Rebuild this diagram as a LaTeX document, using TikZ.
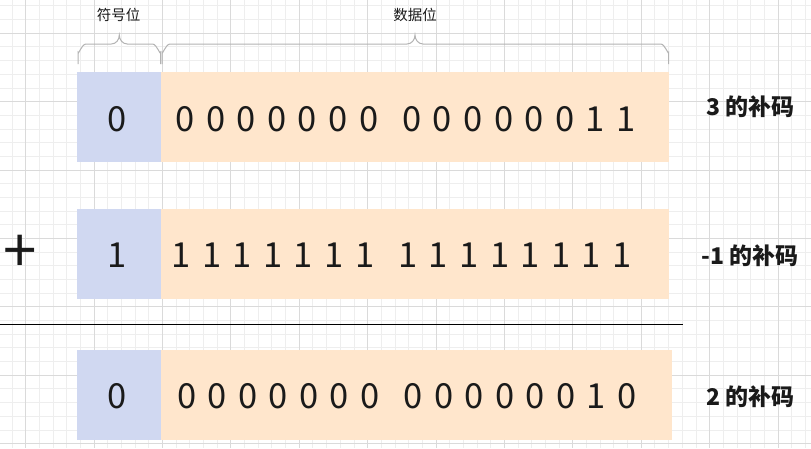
\documentclass[tikz,border=0pt]{standalone}
\usepackage{fontspec}
\setmainfont{Noto Sans CJK SC}
\definecolor{gridminor}{HTML}{EEEEEE}
\definecolor{gridmajor}{HTML}{DADADA}
\definecolor{signfill}{HTML}{D0D8F1}
\definecolor{datafill}{HTML}{FFE6CC}
\definecolor{bracegray}{HTML}{B3B3B3}
\definecolor{ink}{HTML}{1A1A1A}
\begin{document}
\begin{tikzpicture}[x=1pt,y=-1pt,
  minorgrid/.style={draw=gridminor,line width=1pt},
  majorgrid/.style={draw=gridmajor,line width=1pt},
  signbox/.style={fill=signfill,draw=none,minimum width=84pt,minimum height=90pt,inner sep=0pt},
  databox/.style={fill=datafill,draw=none,minimum height=90pt,inner sep=0pt},
  bit/.style={inner sep=0pt,anchor=base,text=ink,font=\fontsize{34.5}{38}\selectfont},
  rowlabel/.style={inner sep=0pt,anchor=base,text=ink,font=\fontsize{23}{26}\selectfont\bfseries},
  bracelabel/.style={inner sep=0pt,text=ink,font=\fontsize{14.5}{16}\selectfont},
  bracepath/.style={draw=bracegray,line width=1pt},
]
\useasboundingbox (0,0) rectangle (811,448);
\fill[white] (0,0) rectangle (811,448);
% grid
\foreach \i in {-1,...,57} { \draw[minorgrid] ({25.7+13.68*\i},0) -- ++(0,448); }
\foreach \j in {-2,...,30} { \draw[minorgrid] (0,{33.3+13.68*\j}) -- ++(811,0); }
\foreach \i in {0,5,...,55} { \draw[majorgrid] ({25.7+13.68*\i},0) -- ++(0,448); }
\foreach \j in {0,5,...,30} { \draw[majorgrid] (0,{33.3+13.68*\j}) -- ++(811,0); }

% boxes
\node[signbox] (s1) at (119,116.7) {};
\node[databox,minimum width=508pt] (d1) at (415,116.7) {};
\node[signbox] (s2) at (119,254) {};
\node[databox,minimum width=508pt] (d2) at (415,254) {};
\node[signbox] (s3) at (119,395) {};
\node[databox,minimum width=510.5pt] (d3) at (416.25,395) {};

% sign bits
\node[bit] (b1s) at (117,131) {0};
\node[bit] (b2s) at (117,267) {1};
\node[bit] (b3s) at (117,408) {0};

% data bits
\foreach \v [count=\i from 0] in {0,0,0,0,0,0,0,0,0,0,0,0,0,1,1} {
  \pgfmathsetmacro{\xx}{185+30.6*\i+(\i>6)*12.7}
  \node[bit] (b1d\i) at (\xx,131) {\v};
}
\foreach \v [count=\i from 0] in {1,1,1,1,1,1,1,1,1,1,1,1,1,1,1} {
  \pgfmathsetmacro{\xx}{181+30.6*\i+(\i>6)*12.7}
  \node[bit] (b2d\i) at (\xx,267) {\v};
}
\foreach \v [count=\i from 0] in {0,0,0,0,0,0,0,0,0,0,0,0,0,1,0} {
  \pgfmathsetmacro{\xx}{187+30.5*\i+(\i>6)*12.7}
  \node[bit] (b3d\i) at (\xx,408) {\v};
}

% plus sign
\node[inner sep=0pt,text=ink,font=\fontsize{60}{62}\selectfont] (plus) at (19.7,253.7) {+};

% separator
\coordinate (sepL) at (0,324);
\coordinate (sepR) at (683,324);
\draw[line width=1pt,black] (sepL) -- (sepR);

% row labels
\node[rowlabel] (l1) at (750.5,115) {3 的补码};
\node[rowlabel] (l2) at (750,264) {-1 的补码};
\node[rowlabel] (l3) at (750.5,405) {2 的补码};

% braces
\coordinate (aL) at (78,64); \coordinate (aM) at (119.3,35); \coordinate (aR) at (160.5,64);
\coordinate (bL) at (162,64); \coordinate (bM) at (415,35); \coordinate (bR) at (668.7,64);
\draw[bracepath] (aL) -- ++(0,-12) to[out=-90,in=180] ++(8,-8) -- (111.3,44) to[out=0,in=-90] (aM) to[out=-90,in=180] (127.3,44) -- (152.5,44) to[out=0,in=-90] (160.5,52) -- (aR);
\draw[bracepath] (bL) -- ++(0,-12) to[out=-90,in=180] ++(8,-8) -- (407,44) to[out=0,in=-90] (bM) to[out=-90,in=180] (423,44) -- (660.7,44) to[out=0,in=-90] (668.7,52) -- (bR);
\node[bracelabel] (t1) at (118.5,15) {符号位};
\node[bracelabel] (t2) at (415,15) {数据位};
\end{tikzpicture}
\end{document}
